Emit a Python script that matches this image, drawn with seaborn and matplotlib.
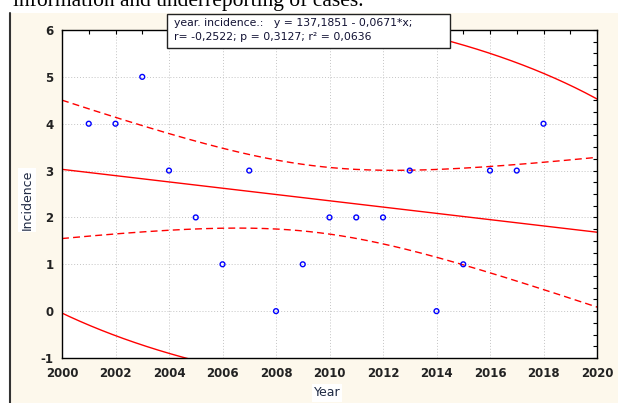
import numpy as np
import matplotlib
matplotlib.use('Agg')
import matplotlib.pyplot as plt
import seaborn as sns
from matplotlib.patches import Rectangle
from matplotlib.ticker import MultipleLocator

# data
years = [2001, 2002, 2003, 2004, 2005, 2006, 2007, 2008, 2009,
         2010, 2011, 2012, 2013, 2014, 2015, 2016, 2017, 2018]
incidence = [4, 4, 5, 3, 2, 1, 3, 0, 1, 2, 2, 2, 3, 0, 1, 3, 3, 4]
x_ticks = list(range(2000, 2021, 2))
y_ticks = list(range(-1, 7))
fit_text = ["year. incidence.:   y = 137,1851 - 0,0671*x;",
            "r= -0,2522; p = 0,3127; r\u00b2 = 0,0636"]

sns.set_style('white')
plt.rcParams['font.family'] = ['DejaVu Sans']
plt.rcParams['axes.unicode_minus'] = False

W, H = 618, 403
fig = plt.figure(figsize=(W / 100, H / 100), dpi=100)
fig.patch.set_facecolor('white')

# cream panel with dark left border
fig.patches.append(Rectangle((9 / W, 0), 1 - 9 / W, 1 - 13 / H, transform=fig.transFigure,
                             facecolor='#fdf8ec', edgecolor='none', zorder=-5))
fig.lines.append(plt.Line2D([9.5 / W, 9.5 / W], [0, 1 - 13 / H], transform=fig.transFigure,
                            color='#333333', lw=1.5, zorder=-4))

# cut-off line of text from the page above
fig.text(13 / W, 1 - 6 / H, "information and underreporting of cases.",
         family='Liberation Serif', fontsize=15.5, va='baseline', ha='left', color='black')

ax = fig.add_axes([62 / W, 1 - 358 / H, (597 - 62) / W, (358 - 30) / H])
ax.set_facecolor('white')

x = np.array(years, dtype=float)
y = np.array(incidence, dtype=float)
n = len(x)
xm, ym = x.mean(), y.mean()
sxx = ((x - xm) ** 2).sum()
sxy = ((x - xm) * (y - ym)).sum()
slope = sxy / sxx
icpt = ym - slope * xm
resid = y - (icpt + slope * x)
s = np.sqrt((resid ** 2).sum() / (n - 2))
t_crit = 2.1199  # t(0.975, 16)

xs = np.linspace(2000, 2020, 200)
fit = icpt + slope * xs
half = t_crit * s * np.sqrt(1 / n + (xs - xm) ** 2 / sxx)

sns.lineplot(x=xs, y=fit, ax=ax, color='#ff0000', lw=1.0)
ax.plot(xs, fit + half, color='#ff0000', lw=1.0, ls=(0, (5, 3)))
ax.plot(xs, fit - half, color='#ff0000', lw=1.0, ls=(0, (5, 3)))

# 95% prediction ellipse
cov = np.cov(x, y)
F = ((n - 2) / 2) * (0.05 ** (-2 / (n - 2)) - 1)
c = 2 * (n - 1) * (n + 1) / (n * (n - 2)) * F
L = np.linalg.cholesky(cov)
tt = np.linspace(0, 2 * np.pi, 400)
ell = L @ np.vstack([np.cos(tt), np.sin(tt)]) * np.sqrt(c)
ax.plot(xm + ell[0], ym + ell[1], color='#ff0000', lw=1.0)

sns.scatterplot(x=years, y=incidence, ax=ax, marker='o', s=12,
                facecolors='none', edgecolor='#0000ff', linewidth=1.0, zorder=5)

ax.set_xlim(2000, 2020)
ax.set_ylim(-1, 6)
ax.set_xticks(x_ticks)
ax.set_yticks(y_ticks)
ax.xaxis.set_minor_locator(MultipleLocator(1))
ax.yaxis.set_minor_locator(MultipleLocator(0.25))
ax.grid(True, which='major', ls=(0, (1, 2)), color='#c4c4c4', lw=0.7)
ax.tick_params(which='both', direction='in', top=True, right=True, length=3,
               width=0.8, color='black', labelsize=8.5, labelcolor='#222222')
ax.tick_params(axis='x', pad=6.5)
ax.tick_params(axis='y', pad=6)
for lab in ax.get_xticklabels() + ax.get_yticklabels():
    lab.set_fontweight('bold')
for sp in ax.spines.values():
    sp.set_visible(True)
    sp.set_color('black')
    sp.set_linewidth(1.0)

ax.set_xlabel('')
ax.set_ylabel('')
fig.text(327 / W, 1 - 393 / H, 'Year', ha='center', va='center', fontsize=9,
         color='#1f2a44', bbox=dict(facecolor='white', edgecolor='none', pad=1.5))
fig.text(27 / W, 1 - 200 / H, 'Incidence', ha='center', va='center', fontsize=9,
         rotation=90, color='#1f2a44', bbox=dict(facecolor='white', edgecolor='none', pad=1.5))

# regression summary box
box = Rectangle((167 / W, 1 - 48 / H), (450 - 167) / W, (48 - 14) / H, transform=fig.transFigure,
                facecolor='white', edgecolor='#222222', lw=1.0, zorder=10)
fig.patches.append(box)
fig.text(174 / W, 1 - 23 / H, fit_text[0], ha='left', va='center', fontsize=7.8,
         color='#111133', zorder=11)
fig.text(174 / W, 1 - 37 / H, fit_text[1], ha='left', va='center', fontsize=7.8,
         color='#111133', zorder=11)

fig.savefig('out.png', dpi=100)
